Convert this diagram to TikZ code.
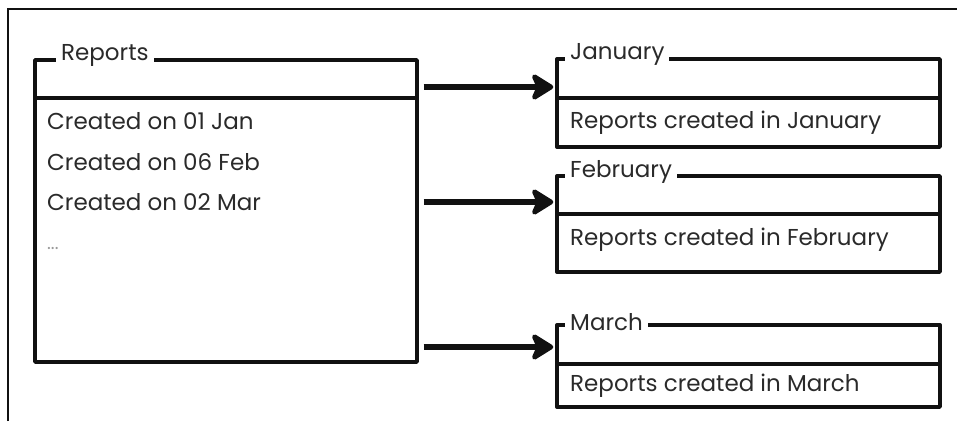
\documentclass[tikz,border=0pt]{standalone}
\usepackage{fontspec}
\setmainfont{Poppins}
\usetikzlibrary{arrows.meta}
\definecolor{ink}{HTML}{111111}
\definecolor{txt}{HTML}{2A2A2A}
\begin{document}
\begin{tikzpicture}[x=1pt,y=-1pt,
  font=\fontsize{23}{26}\selectfont,
  boxpart/.style={draw=ink, line width=3.4pt, line join=round, rectangle,
    inner sep=0pt, minimum width=383pt},
  title/.style={fill=white, text=txt, inner xsep=5pt, inner ysep=0pt, anchor=west},
  item/.style={text=txt, inner sep=0pt, anchor=west},
  flow/.style={draw=ink, line width=6pt,
    -{Stealth[length=26pt,width=32pt,inset=7pt,round]}},
]
\useasboundingbox (0,0) rectangle (957,421);

% outer frame (top and left edges only)
\draw[ink, line width=2.4pt] (8,421) -- (8,9) -- (957,9);

% source panel
\node[boxpart, minimum width=382pt, minimum height=38pt] (repH) at (226,79) {};
\node[boxpart, minimum width=382pt, minimum height=264pt] (repB) at (226,230) {};
\node[title] (repT) at (56,55) {Reports};
\node[item] (r1) at (47,121) {Created on 01 Jan};
\node[item] (r2) at (47,162) {Created on 06 Feb};
\node[item] (r3) at (47,202) {Created on 02 Mar};
\node[item, text=gray!80, font=\fontsize{18}{19}\selectfont] (r4) at (47,248) {...};

% month panels
\node[boxpart, minimum height=39pt] (janH) at (748.5,78.5) {};
\node[boxpart, minimum height=49pt] (janB) at (748.5,122.5) {};
\node[title] (janT) at (565,54) {January};
\node[item] (janI) at (570,123) {Reports created in January};

\node[boxpart, minimum height=38pt] (febH) at (748.5,195) {};
\node[boxpart, minimum height=58pt] (febB) at (748.5,243) {};
\node[title] (febT) at (565,172) {February};
\node[item] (febI) at (570,240) {Reports created in February};

\node[boxpart, minimum height=39pt] (marH) at (748.5,344.5) {};
\node[boxpart, minimum height=43pt] (marB) at (748.5,385.5) {};
\node[title] (marT) at (565,322) {March};
\node[item] (marI) at (570,386) {Reports created in March};

% connectors
\coordinate (y1) at (0,87);
\coordinate (y2) at (0,202);
\coordinate (y3) at (0,347);
\draw[flow] ([xshift=5pt]repH.east |- y1) -- ([xshift=-2pt]janH.west |- y1);
\draw[flow] ([xshift=5pt]repB.east |- y2) -- ([xshift=-2pt]febH.west |- y2);
\draw[flow] ([xshift=5pt]repB.east |- y3) -- ([xshift=-2pt]marH.west |- y3);
\end{tikzpicture}
\end{document}
